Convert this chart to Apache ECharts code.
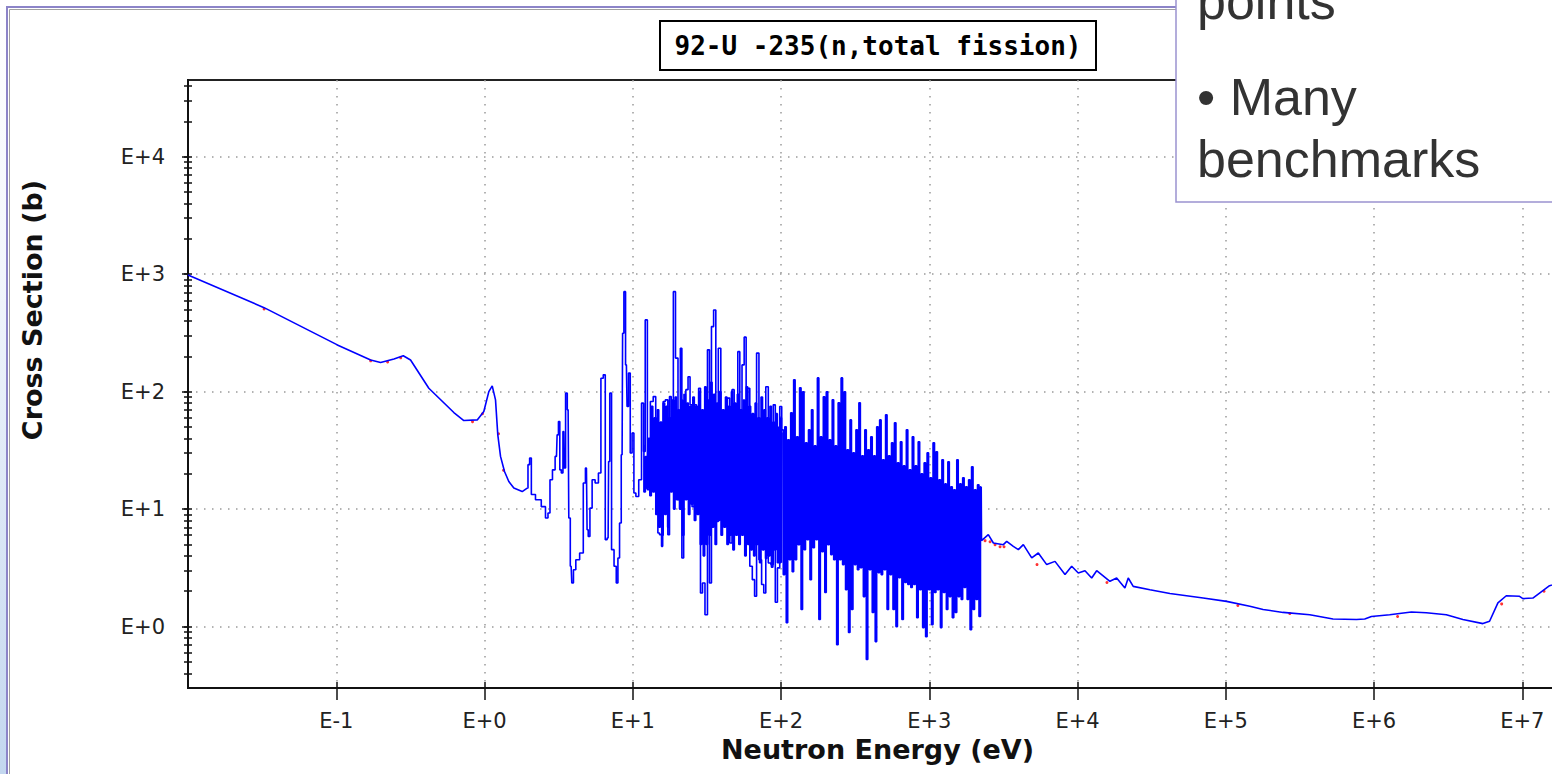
<!DOCTYPE html>
<html lang="en">

<head>
    <meta charset="UTF-8">
    <meta name="viewport" content="width=device-width, initial-scale=1.0">
    <title>92-U-235 fission</title>
    <script src="https://cdn.jsdelivr.net/npm/echarts@6.0.0/dist/echarts.min.js"></script>
    <style>
        html,
        body {
            margin: 0;
            padding: 0;
            background: #fff;
            overflow: hidden;
        }

        #main {
            width: 1600px;
            height: 774px;
        }
    </style>
</head>

<body>
    <div id="main"></div>

    <script>
        // energy in eV, cross section in barns
        const thermalEnergy = [0.01, 0.0326, 0.1017, 0.1706, 0.199, 0.245, 0.283, 0.317, 0.421, 0.621, 0.725, 0.893,
            0.989, 1.069, 1.127, 1.186, 1.229, 1.282, 1.364, 1.458, 1.576, 1.795, 1.940];
        const thermalXs = [985, 519, 250, 186, 177, 190, 202, 186, 107, 66.4, 56.8, 57.5,
            67.7, 100, 112, 85.2, 42.9, 28.1, 20.9, 17.2, 15.1, 14.1, 15.1];

        // resolved resonances, 2 - 100 eV
        const resEnergy = [1.988, 2.042, 2.097, 2.322, 2.51, 2.646, 2.713, 2.815, 2.931, 3.057,
            3.118, 3.186, 3.252, 3.339, 3.422, 3.476, 3.568, 3.664, 3.739, 3.839,
            3.917, 4.043, 4.215, 4.553, 4.72, 4.868, 4.967, 5.045, 5.236, 5.401,
            5.747, 5.983, 6.21, 6.437, 6.608, 6.817, 6.924, 7.063, 7.32, 7.632,
            7.842, 8.035, 8.25, 8.47, 8.602, 8.821, 9.056, 9.24, 9.487, 9.74,
            10.05, 10.3, 10.69, 11.25, 11.66, 11.97, 12.29, 12.8, 13.49, 13.98,
            14.58, 14.95, 15.35, 15.91, 16.15, 17.02, 17.45, 17.92, 18.4, 19.16,
            19.67, 20.7, 21.16, 21.7, 22.38, 23.22, 23.96, 24.72, 25.49, 26.42,
            27.37, 28.24, 29.0, 30.05, 31.33, 32.47, 33.34, 34.54, 35.64, 36.98,
            38.5, 39.99, 41.43, 42.73, 44.28, 45.96, 47.42, 49.14, 50.45, 51.72,
            53.7, 55.4, 57.4, 58.9, 60.4, 62.7, 65.3, 67.3, 69.5, 72.4,
            75.5, 77.4, 80.4, 83.7, 87.2, 90.0, 92.9, 96.2, 99.8];
        const resXs = [23.9, 27.2, 13.3, 12.0, 10.5, 8.40, 9.27, 17.8, 21.6, 28.1,
            42.9, 55.7, 21.6, 20.3, 45.8, 22.4, 97.1, 70.0, 8.40, 3.26,
            2.35, 3.05, 3.71, 4.23, 16.7, 22.4, 6.68, 5.86, 10.2, 17.8,
            16.7, 20.3, 130, 139, 5.49, 5.67, 25.4, 97.1, 4.52, 3.26,
            2.35, 3.84, 7.62, 29.0, 314, 710, 169, 74.7, 144, 30.0,
            44.4, 13.7, 12.8, 17.8, 79.8, 30.9, 408, 14.6, 82.4, 90.8,
            13.7, 6.26, 6.06, 4.82, 82.4, 85.2, 6.06, 90.8, 19.0, 710,
            193, 12.0, 234, 3.84, 15.1, 104, 134, 77.2, 10.5, 77.2,
            10.5, 107, 1.93, 2.35, 1.26, 227, 2.35, 358, 496, 7.86,
            234, 8.67, 67.7, 21.6, 88.1, 5.15, 104, 74.7, 8.13, 219,
            9.89, 169, 291, 8.40, 107, 3.26, 2.51, 1.81, 213, 3.71,
            2.28, 1.93, 110, 3.48, 3.37, 77.2, 1.61, 3.16, 74.7];

        // the many narrow resonances that crowd between the big ones, 12 - 100 eV
        const crowdEnergy = [11.75, 12.02, 12.30, 12.59,
            12.88, 13.18, 13.49, 13.80, 14.13, 14.45, 14.79, 15.14, 15.49, 15.85,
            16.22, 16.60, 16.98, 17.38, 17.78, 18.20, 18.62, 19.05, 19.50, 19.95,
            20.42, 20.89, 21.38, 21.88, 22.39, 22.91, 23.44, 23.99, 24.55, 25.12,
            25.70, 26.30, 26.92, 27.54, 28.18, 28.84, 29.51, 30.20, 30.90, 31.62,
            32.36, 33.11, 33.88, 34.67, 35.48, 36.31, 37.15, 38.02, 38.90, 39.81,
            40.74, 41.69, 42.66, 43.65, 44.67, 45.71, 46.77, 47.86, 48.98, 50.12,
            51.29, 52.48, 53.70, 54.95, 56.23, 57.54, 58.88, 60.26, 61.66, 63.10,
            64.57, 66.07, 67.61, 69.18, 70.79, 72.44, 74.13, 75.86, 77.62, 79.43,
            81.28, 83.18, 85.11, 87.10, 89.13, 91.20, 93.33, 95.50, 97.72, 99.0,
            100.2, 101.2, 102.0];
        const crowdXs = [35, 14, 28, 15,
            40, 13, 75, 14, 60, 9, 70, 7, 55, 6,
            80, 9, 75, 7, 60, 14, 85, 10, 90, 12,
            70, 10, 85, 6, 95, 12, 80, 9, 75, 11,
            90, 8, 75, 9, 100, 5, 70, 4, 110, 5,
            85, 6, 120, 7, 95, 5, 80, 8, 100, 6,
            70, 7, 90, 5, 75, 6, 100, 4.5, 80, 6,
            95, 5, 70, 6, 85, 4, 110, 5, 75, 4.5,
            65, 4, 80, 5, 60, 3.5, 90, 4.5, 70, 3.8,
            60, 4, 75, 3.2, 55, 4.5, 65, 3.5, 50, 3.5,
            60, 3.5, 45];

        // dense resonance band, 100 eV - 2.25 keV
        const denseEnergy = [102.3, 104.7, 107.2, 109.6, 112.2, 114.8, 117.5, 120.2, 123.0, 125.9,
            128.8, 131.8, 134.9, 138.0, 141.3, 144.5, 147.9, 151.4, 154.9, 158.5,
            162.2, 166.0, 169.8, 173.8, 177.8, 182.0, 186.2, 190.5, 195.0, 199.5,
            204.2, 208.9, 213.8, 218.8, 223.9, 229.1, 234.4, 239.9, 245.5, 251.2,
            257.0, 263.0, 269.2, 275.4, 281.8, 288.4, 295.1, 302.0, 309.0, 316.2,
            323.6, 331.1, 338.8, 346.7, 354.8, 363.1, 371.5, 380.2, 389.0, 398.1,
            407.4, 416.9, 426.6, 436.5, 446.7, 457.1, 467.7, 478.6, 489.8, 501.2,
            512.9, 524.8, 537.0, 549.5, 562.3, 575.4, 588.8, 602.6, 616.6, 631.0,
            645.7, 660.7, 676.1, 691.8, 707.9, 724.4, 741.3, 758.6, 776.2, 794.3,
            812.8, 831.8, 851.1, 871.0, 891.3, 912.0, 933.3, 955.0, 977.2, 1000,
            1023, 1047, 1072, 1096, 1122, 1148, 1175, 1202, 1230, 1259,
            1288, 1318, 1349, 1380, 1413, 1445, 1479, 1514, 1549, 1585,
            1622, 1660, 1698, 1738, 1778, 1820, 1862, 1905, 1950, 1995,
            2042, 2089, 2138, 2188, 2239];
        const denseXs = [47.3, 2.77, 50.2, 1.08, 38.9, 3.71, 66.0, 2.93, 126, 3.71,
            41.3, 4.98, 108, 1.40, 99.6, 4.52, 36.7, 5.49, 47.3, 2.51,
            70.0, 4.70, 34.6, 5.49, 131, 1.15, 41.3, 4.34, 90.3, 1.95,
            99.6, 4.98, 38.9, 4.10, 85.2, 3.71, 34.6, 0.70, 80.3, 3.71,
            131, 3.37, 99.6, 2.06, 32.0, 0.89, 57.5, 1.40, 30.2, 3.37,
            47.3, 3.05, 80.3, 3.17, 28.5, 1.80, 47.3, 0.524, 32.0, 3.05,
            41.3, 1.32, 28.5, 0.745, 50.2, 2.88, 57.5, 2.77, 26.3, 3.05,
            63.5, 1.40, 28.5, 2.77, 36.7, 1.40, 54.3, 1.00, 24.8, 2.61,
            37.4, 1.15, 23.4, 2.37, 47.3, 2.28, 21.6, 2.15, 41.3, 2.28,
            23.4, 1.19, 37.4, 2.06, 20.0, 0.98, 24.8, 0.82, 30.2, 2.06,
            18.5, 1.04, 36.7, 1.95, 30.8, 2.06, 17.8, 0.98, 26.3, 1.95,
            16.4, 1.40, 25.3, 1.80, 15.5, 1.19, 14.6, 1.32, 26.3, 1.80,
            16.4, 1.70, 18.5, 2.15, 15.5, 1.70, 17.8, 0.94, 22.9, 1.40,
            14.6, 1.70, 16.1, 1.22, 15.5];

        // unresolved + fast region up to 20 MeV
        const fastEnergy = [2250, 2500, 2704, 3157, 3327, 3687, 3985, 4306, 4906, 5435,
            6191, 7042, 8228, 9126, 10110, 11220, 12450, 13450, 16530, 18340,
            20860, 21960, 23730, 30750, 41940, 70310, 101100, 145100, 178400, 243300,
            368100, 528400, 760000, 864500, 959000, 1.274e6, 1.784e6, 2.251e6, 3.07e6, 3.97e6,
            5.42e6, 6.01e6, 6.84e6, 7.79e6, 9.57e6, 1.008e7, 1.177e7, 1.306e7, 1.525e7, 2e7];
        const fastXs = [5.39, 6.06, 5.15, 4.98, 5.31, 4.82, 4.52, 4.98, 3.84, 4.23,
            3.37, 3.59, 2.77, 3.26, 2.86, 2.99, 2.59, 2.99, 2.43, 2.59,
            2.13, 2.59, 2.20, 2.06, 1.91, 1.75, 1.64, 1.49, 1.40, 1.32,
            1.26, 1.16, 1.15, 1.16, 1.22, 1.26, 1.33, 1.31, 1.26, 1.15,
            1.06, 1.11, 1.59, 1.83, 1.81, 1.73, 1.75, 1.93, 2.23, 2.45];

        // second evaluation, only shows where it peeks out
        const redEnergy = [0.0326, 0.1706, 0.222, 0.272, 0.830, 0.969, 1.243, 1.343, 2377, 2569,
            2776, 3000, 3192, 5326, 15780, 120500, 270000, 1.44e6, 7.25e6, 1.4e7];
        const redXs = [506, 183, 179, 194, 55.4, 64.8, 43.8, 21.4, 5.39, 5.28,
            4.98, 4.78, 4.78, 3.37, 2.37, 1.51, 1.29, 1.22, 1.56, 2.0];

        const xTicks = [0.1, 1, 10, 100, 1000, 1e4, 1e5, 1e6, 1e7];
        const yTicks = [1, 10, 100, 1000, 10000];
        const yMinorTicks = [0.4, 0.5, 0.6, 0.7, 0.8, 0.9, 2, 3, 4, 5, 6, 7, 8, 9,
            20, 30, 40, 50, 60, 70, 80, 90, 200, 300, 400, 500, 600, 700, 800, 900,
            2000, 3000, 4000, 5000, 6000, 7000, 8000, 9000, 20000, 30000, 40000];
        const noteLines = ['points', '\u2022 Many', 'benchmarks'];

        const chart = echarts.init(document.getElementById('main'), null, { renderer: 'svg' });

        const axisFont = 'DejaVu Sans';
        const blue = '#0000ff';

        function pairs(xs, ys) {
            return xs.map((x, i) => [x, ys[i]]);
        }

        function expLabel(v) {
            const p = Math.round(Math.log10(v));
            return 'E' + (p < 0 ? '-' : '+') + Math.abs(p);
        }

        const thermalData = pairs(thermalEnergy, thermalXs);
        const resData = pairs(
            [thermalEnergy[thermalEnergy.length - 1]].concat(resEnergy, denseEnergy),
            [thermalXs[thermalXs.length - 1]].concat(resXs, denseXs));
        const fastData = pairs(
            [denseEnergy[denseEnergy.length - 1]].concat(fastEnergy),
            [denseXs[denseXs.length - 1]].concat(fastXs));

        const tickStyle = { color: '#111', width: 1.5 };
        const blueLine = { color: blue, width: 1.6 };

        const option = {
            animation: false,
            backgroundColor: '#fff',
            grid: {
                left: 188, top: 80, right: 33, bottom: 86,
                show: true, borderColor: '#222', borderWidth: 2
            },
            xAxis: [
                {
                    type: 'log', min: 0.01, max: 2e7, position: 'bottom',
                    name: 'Neutron Energy (eV)', nameLocation: 'middle', nameGap: 46,
                    nameTextStyle: { fontFamily: axisFont, fontWeight: 'bold', fontSize: 27, color: '#111' },
                    axisLine: { lineStyle: { color: '#111', width: 2 } },
                    axisTick: { customValues: xTicks, length: 12, lineStyle: tickStyle },
                    axisLabel: {
                        customValues: xTicks, formatter: expLabel, margin: 22,
                        fontFamily: axisFont, fontSize: 21, color: '#222'
                    },
                    splitLine: { show: true, lineStyle: { color: '#9a9a9a', width: 1.5, type: [1.5, 6.5] } }
                },
                {
                    // short ticks poking up into the plot
                    type: 'log', min: 0.01, max: 2e7, position: 'bottom', offset: -6,
                    axisLine: { show: false },
                    axisTick: { customValues: xTicks, length: 6, lineStyle: tickStyle },
                    axisLabel: { show: false },
                    splitLine: { show: false }
                }
            ],
            yAxis: [
                {
                    type: 'log', min: 0.3, max: 45000, position: 'left',
                    axisLine: { lineStyle: { color: '#111', width: 2 } },
                    axisTick: { customValues: yTicks, length: 6, lineStyle: tickStyle },
                    axisLabel: {
                        customValues: yTicks, formatter: expLabel, margin: 23,
                        fontFamily: axisFont, fontSize: 21, color: '#222'
                    },
                    splitLine: { show: true, lineStyle: { color: '#9a9a9a', width: 1.5, type: [1.5, 6.5] } }
                },
                {
                    type: 'log', min: 0.3, max: 45000, position: 'left', offset: -4,
                    axisLine: { show: false },
                    axisTick: { customValues: yMinorTicks.concat(yTicks), length: 8, lineStyle: tickStyle },
                    axisLabel: { show: false },
                    splitLine: { show: false }
                }
            ],
            series: [
                {
                    name: 'red', type: 'scatter', data: pairs(redEnergy, redXs),
                    symbolSize: 3, itemStyle: { color: '#ff0000' }, z: 1
                },
                {
                    name: 'thermal', type: 'line', data: thermalData, showSymbol: false,
                    lineStyle: blueLine, z: 3
                },
                {
                    name: 'crowd', type: 'line', data: pairs(crowdEnergy, crowdXs), showSymbol: false,
                    step: 'middle', lineStyle: blueLine, z: 3
                },
                {
                    name: 'resonance', type: 'line', data: resData, showSymbol: false, step: 'middle',
                    lineStyle: blueLine, z: 3
                },
                {
                    name: 'fast', type: 'line', data: fastData, showSymbol: false,
                    lineStyle: blueLine, z: 3
                }
            ],
            graphic: [
                {
                    type: 'rect', silent: true, z: 0,
                    shape: { x: 0, y: 0, width: 7, height: 774 },
                    style: {
                        fill: new echarts.graphic.LinearGradient(0, 0, 0, 1, [
                            { offset: 0, color: '#ffffff' },
                            { offset: 0.35, color: '#f2f6fc' },
                            { offset: 1, color: '#c3d7ef' }
                        ])
                    }
                },
                {
                    type: 'polyline', silent: true, z: 50,
                    shape: { points: [[7, 774], [7, 7], [1176, 7]] },
                    style: { stroke: '#8c84c8', lineWidth: 2, fill: null }
                },
                {
                    type: 'polyline', silent: true, z: 50,
                    shape: { points: [[9.5, 774], [9.5, 9.5], [1176, 9.5]] },
                    style: { stroke: '#a0a0a0', lineWidth: 1, fill: null }
                },
                {
                    type: 'rect', silent: true, z: 60,
                    shape: { x: 660, y: 21, width: 436, height: 49 },
                    style: { fill: '#fff', stroke: '#000', lineWidth: 2 }
                },
                {
                    type: 'text', silent: true, z: 61, x: 878, y: 46,
                    style: {
                        text: '92-U -235(n,total fission)', fill: '#000',
                        font: 'bold 26px "DejaVu Sans Mono"', align: 'center', verticalAlign: 'middle'
                    }
                },
                {
                    type: 'text', silent: true, z: 61, x: 32, y: 310, rotation: Math.PI / 2,
                    style: {
                        text: 'Cross Section (b)', fill: '#111',
                        font: 'bold 27px "DejaVu Sans"', align: 'center', verticalAlign: 'middle'
                    }
                },
                {
                    type: 'rect', silent: true, z: 70,
                    shape: { x: 1176, y: -10, width: 420, height: 212 },
                    style: { fill: '#fff', stroke: '#9a92d0', lineWidth: 1.5 }
                },
                {
                    type: 'text', silent: true, z: 71, x: 1197, y: 1,
                    style: { text: noteLines[0], fill: '#333', font: '52px "Liberation Sans"', verticalAlign: 'middle' }
                },
                {
                    type: 'text', silent: true, z: 71, x: 1197, y: 97,
                    style: { text: noteLines[1], fill: '#333', font: '52px "Liberation Sans"', verticalAlign: 'middle' }
                },
                {
                    type: 'text', silent: true, z: 71, x: 1197, y: 159,
                    style: { text: noteLines[2], fill: '#333', font: '52px "Liberation Sans"', verticalAlign: 'middle' }
                }
            ]
        };

        chart.setOption(option);
    </script>
</body>

</html>
